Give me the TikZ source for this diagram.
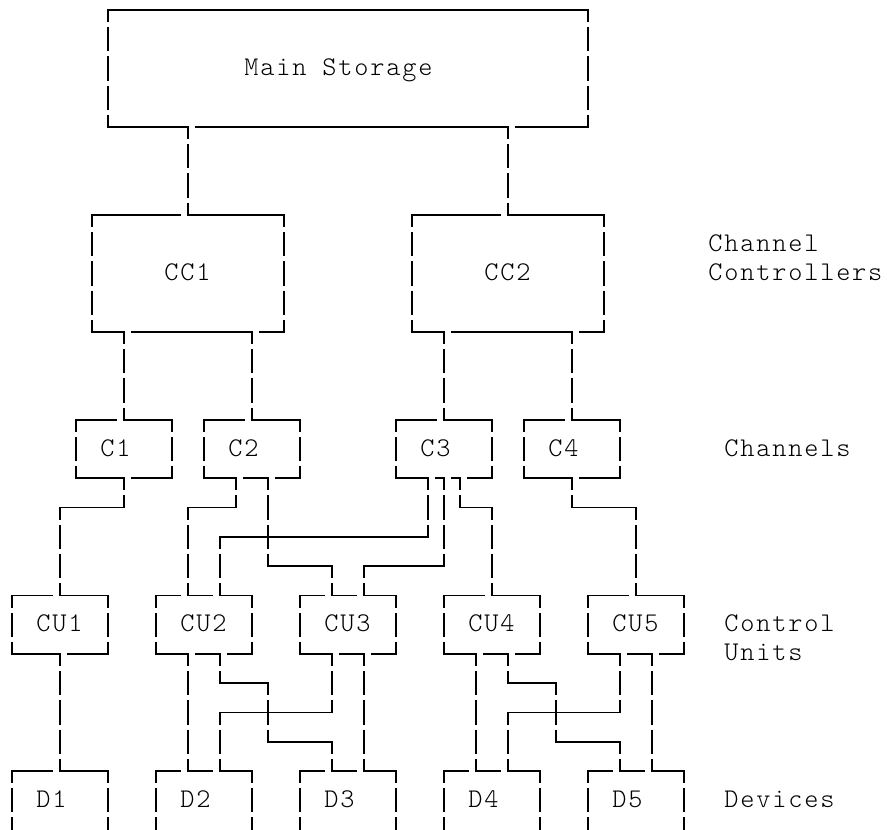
\documentclass[tikz,border=0pt]{standalone}
\usepackage{fontspec}
\newfontfamily\crt[LetterSpace=6.7]{lmmonolt10-regular.otf}
\usepackage{tikz}

% vertical run, row line, vertical run
\newcommand{\cable}[3]{%
  \draw[vl] (#1) -- (#1 |- 0,#2);
  \draw[hl] (#1 |- 0,#2) -- (#3 |- 0,#2);
  \draw[vl] (#3 |- 0,#2) -- (#3);}

\begin{document}
\begin{tikzpicture}[x=8pt,y=-14.635pt]
\tikzset{vl/.style={line width=0.9pt,dash pattern=on 12.135pt off 2.5pt,dash phase=6.0675pt},
  hl/.style={line width=0.9pt,line cap=rect},
  txt/.style={anchor=west,xshift=-4pt,inner sep=0pt,text height=9pt,text depth=2pt,
    font=\crt\fontsize{13.5pt}{16pt}\selectfont}}
\useasboundingbox (-0.75,-0.3417) rectangle (54.6875,27.981);

% labels
\path (15,2) node[txt] (ms) {Main Storage};
\path (10,9) node[txt] (cc1) {CC1};
\path (30,9) node[txt] (cc2) {CC2};
\path (6,15) node[txt] (c1) {C1};
\path (14,15) node[txt] (c2) {C2};
\path (26,15) node[txt] (c3) {C3};
\path (34,15) node[txt] (c4) {C4};
\path (2,21) node[txt] (cu1) {CU1};
\path (11,21) node[txt] (cu2) {CU2};
\path (20,21) node[txt] (cu3) {CU3};
\path (29,21) node[txt] (cu4) {CU4};
\path (38,21) node[txt] (cu5) {CU5};
\path (2,27) node[txt] (d1) {D1};
\path (11,27) node[txt] (d2) {D2};
\path (20,27) node[txt] (d3) {D3};
\path (29,27) node[txt] (d4) {D4};
\path (38,27) node[txt] (d5) {D5};
\path (44,8) node[txt] (lcc) {Channel};
\path (44,9) node[txt] (lcc2) {Controllers};
\path (45,15) node[txt] (lch) {Channels};
\path (45,21) node[txt] (lcu) {Control};
\path (45,22) node[txt] (lcu2) {Units};
\path (45,27) node[txt] (ldv) {Devices};

% frames
\draw[vl] (6,0) -- (6,4);
\draw[vl] (36,0) -- (36,4);
\draw[hl] (6,0) -- (36,0);
\draw[hl] (6,4) -- (11,4) (11.5,4) -- (31,4) (31.5,4) -- (36,4);

\foreach \c in {5,17,25,37} {\draw[vl] (\c,7) -- (\c,11);}
\draw[hl] (5,7) -- (10.5,7) (11,7) -- (17,7);
\draw[hl] (25,7) -- (30.5,7) (31,7) -- (37,7);
\draw[hl] (5,11) -- (7,11) (7.5,11) -- (15,11) (15.5,11) -- (17,11);
\draw[hl] (25,11) -- (27,11) (27.5,11) -- (35,11) (35.5,11) -- (37,11);

\foreach \c in {4,12,24,32} {\draw[vl] (\c,14) -- (\c,16); \draw[vl] (\c+6,14) -- (\c+6,16);}
\draw[hl] (4,14) -- (6.5,14) (7,14) -- (10,14);
\draw[hl] (12,14) -- (14.5,14) (15,14) -- (18,14);
\draw[hl] (24,14) -- (26.5,14) (27,14) -- (30,14);
\draw[hl] (32,14) -- (34.5,14) (35,14) -- (38,14);
\draw[hl] (4,16) -- (7,16) (7.5,16) -- (10,16);
\draw[hl] (12,16) -- (14,16) (14.5,16) -- (16,16) (16.5,16) -- (18,16);
\draw[hl] (24,16) -- (26,16) (26.5,16) -- (27,16) (27.5,16) -- (28,16) (28.5,16) -- (30,16);
\draw[hl] (32,16) -- (35,16) (35.5,16) -- (38,16);

\foreach \c in {0,9,18,27,36} {
  \draw[vl] (\c,20) -- (\c,22); \draw[vl] (\c+6,20) -- (\c+6,22);
  \draw[vl] (\c,26) -- (\c,28.5); \draw[vl] (\c+6,26) -- (\c+6,28.5);}
\draw[hl] (0,20) -- (2.5,20) (3,20) -- (6,20);
\draw[hl] (9,20) -- (10.5,20) (11,20) -- (12.5,20) (13,20) -- (15,20);
\draw[hl] (18,20) -- (19.5,20) (20,20) -- (21.5,20) (22,20) -- (24,20);
\draw[hl] (27,20) -- (29.5,20) (30,20) -- (33,20);
\draw[hl] (36,20) -- (38.5,20) (39,20) -- (42,20);
\draw[hl] (0,22) -- (3,22) (3.5,22) -- (6,22);
\draw[hl] (9,22) -- (11,22) (11.5,22) -- (13,22) (13.5,22) -- (15,22);
\draw[hl] (18,22) -- (20,22) (20.5,22) -- (22,22) (22.5,22) -- (24,22);
\draw[hl] (27,22) -- (29,22) (29.5,22) -- (31,22) (31.5,22) -- (33,22);
\draw[hl] (36,22) -- (38,22) (38.5,22) -- (40,22) (40.5,22) -- (42,22);
\draw[hl] (0,26) -- (2.5,26) (3,26) -- (6,26);
\draw[hl] (9,26) -- (10.5,26) (11,26) -- (12.5,26) (13,26) -- (15,26);
\draw[hl] (18,26) -- (19.5,26) (20,26) -- (21.5,26) (22,26) -- (24,26);
\draw[hl] (27,26) -- (28.5,26) (29,26) -- (30.5,26) (31,26) -- (33,26);
\draw[hl] (36,26) -- (37.5,26) (38,26) -- (39.5,26) (40,26) -- (42,26);

% ports
\coordinate (ms-o1) at (11,4);
\coordinate (ms-o2) at (31,4);
\coordinate (cc1-i) at (11,7);
\coordinate (cc1-o1) at (7,11);
\coordinate (cc1-o2) at (15,11);
\coordinate (cc2-i) at (31,7);
\coordinate (cc2-o1) at (27,11);
\coordinate (cc2-o2) at (35,11);
\coordinate (c1-i) at (7,14);
\coordinate (c1-o) at (7,16);
\coordinate (c2-i) at (15,14);
\coordinate (c2-o1) at (14,16);
\coordinate (c2-o2) at (16,16);
\coordinate (c3-i) at (27,14);
\coordinate (c3-o1) at (26,16);
\coordinate (c3-o2) at (27,16);
\coordinate (c3-o3) at (28,16);
\coordinate (c4-i) at (35,14);
\coordinate (c4-o) at (35,16);
\coordinate (cu1-i) at (3,20);
\coordinate (cu1-o) at (3,22);
\coordinate (cu2-i1) at (11,20);
\coordinate (cu2-i2) at (13,20);
\coordinate (cu2-o1) at (11,22);
\coordinate (cu2-o2) at (13,22);
\coordinate (cu3-i1) at (20,20);
\coordinate (cu3-i2) at (22,20);
\coordinate (cu3-o1) at (20,22);
\coordinate (cu3-o2) at (22,22);
\coordinate (cu4-i) at (30,20);
\coordinate (cu4-o1) at (29,22);
\coordinate (cu4-o2) at (31,22);
\coordinate (cu5-i) at (39,20);
\coordinate (cu5-o1) at (38,22);
\coordinate (cu5-o2) at (40,22);
\coordinate (d1-i) at (3,26);
\coordinate (d2-i1) at (11,26);
\coordinate (d2-i2) at (13,26);
\coordinate (d3-i1) at (20,26);
\coordinate (d3-i2) at (22,26);
\coordinate (d4-i1) at (29,26);
\coordinate (d4-i2) at (31,26);
\coordinate (d5-i1) at (38,26);
\coordinate (d5-i2) at (40,26);
\coordinate (k1) at (16,23);
\coordinate (k2) at (34,23);

% connectors
\draw[vl] (ms-o1) -- (cc1-i);
\draw[vl] (ms-o2) -- (cc2-i);
\draw[vl] (cc1-o1) -- (c1-i);
\draw[vl] (cc1-o2) -- (c2-i);
\draw[vl] (cc2-o1) -- (c3-i);
\draw[vl] (cc2-o2) -- (c4-i);

\cable{c1-o}{17}{cu1-i}
\cable{c2-o1}{17}{cu2-i1}
\cable{c2-o2}{19}{cu3-i1}
\cable{c3-o1}{18}{cu2-i2}
\cable{c3-o2}{19}{cu3-i2}
\cable{c3-o3}{17}{cu4-i}
\cable{c4-o}{17}{cu5-i}

\draw[vl] (cu1-o) -- (d1-i);
\draw[vl] (cu2-o1) -- (d2-i1);
\draw[vl] (cu3-o2) -- (d3-i2);
\draw[vl] (cu4-o1) -- (d4-i1);
\draw[vl] (cu5-o2) -- (d5-i2);
\cable{cu2-o2}{23}{k1}
\cable{k1}{25}{d3-i1}
\cable{cu3-o1}{24}{d2-i2}
\cable{cu4-o2}{23}{k2}
\cable{k2}{25}{d5-i1}
\cable{cu5-o1}{24}{d4-i2}
\end{tikzpicture}
\end{document}
